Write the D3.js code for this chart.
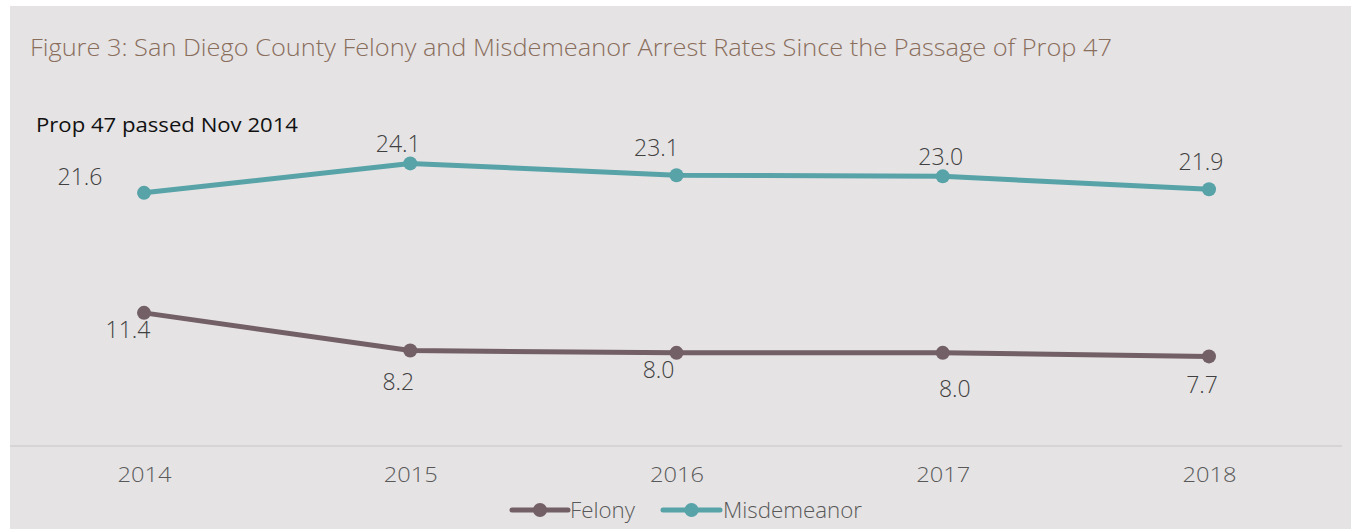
<!DOCTYPE html>
<html><head><meta charset="utf-8">
<script src="https://cdn.jsdelivr.net/npm/d3@7"></script>
<style>
html,body{margin:0;padding:0;background:#fff;}
svg{display:block;font-family:"Open Sans",sans-serif;font-weight:300;}
</style></head>
<body>
<svg id="chart" width="1353" height="529"></svg>
<script>
const years = ["2014","2015","2016","2017","2018"];
const felony = [11.4, 8.2, 8.0, 8.0, 7.7];
const misdemeanor = [21.6, 24.1, 23.1, 23.0, 21.9];
const seriesNames = ["Felony","Misdemeanor"];
const titleText = "Figure 3: San Diego County Felony and Misdemeanor Arrest Rates Since the Passage of Prop 47";
const noteText = "Prop 47 passed Nov 2014";

// label offsets (dx, dy from point) — styling only
const labelOffsets = {
  Felony: [[-16,17],[-12,31],[-18,17],[12,36],[-7,29]],
  Misdemeanor: [[-64,-16],[-12,-19],[-20,-27],[-2,-19],[-8,-27]]
};
const colors = {Felony:"#735f66", Misdemeanor:"#57a3a8"};

const svg = d3.select("#chart");
svg.append("rect").attr("x",10).attr("y",6).attr("width",1341).attr("height",523).attr("fill","#e5e3e4");

const x = d3.scalePoint().domain(years).range([144,1209]);
const y = d3.scaleLinear().domain([0,30]).range([447,94]);

// title
svg.append("text").attr("x",30).attr("y",56).text(titleText)
  .attr("font-size",24).attr("fill","#8a6e5c")
  .attr("textLength",1082).attr("lengthAdjust","spacingAndGlyphs");

svg.append("text").attr("x",36).attr("y",132).text(noteText)
  .attr("font-size",20).attr("fill","#111").attr("font-weight",400)
  .attr("textLength",262).attr("lengthAdjust","spacingAndGlyphs");

// axis
const axis = d3.axisBottom(x).tickSize(0).tickPadding(21);
const gx = svg.append("g").attr("transform","translate(0,446)").call(axis);
gx.select(".domain").remove();
svg.append("line").attr("x1",10).attr("x2",1342).attr("y1",446).attr("y2",446)
  .attr("stroke","#d6d4d5").attr("stroke-width",2);
gx.selectAll("text").attr("font-size",21).attr("fill","#595959")
  .attr("font-family","Open Sans").attr("font-weight",300)
  .attr("textLength",54).attr("lengthAdjust","spacingAndGlyphs");

const data = {Felony: felony, Misdemeanor: misdemeanor};
const line = d3.line().x((d,i)=>x(years[i])).y(d=>y(d));

seriesNames.forEach(name=>{
  const vals = data[name];
  svg.append("path").datum(vals).attr("d",line).attr("fill","none")
    .attr("stroke",colors[name]).attr("stroke-width",5);
  svg.selectAll(null).data(vals).enter().append("circle")
    .attr("cx",(d,i)=>x(years[i])).attr("cy",d=>y(d)).attr("r",7).attr("fill",colors[name]);
  svg.selectAll(null).data(vals).enter().append("text")
    .attr("x",(d,i)=>x(years[i])+labelOffsets[name][i][0])
    .attr("y",(d,i)=>y(d)+labelOffsets[name][i][1]+8)
    .attr("text-anchor","middle").attr("font-size",23).attr("fill","#404040")
    .text(d=>d.toFixed(1));
});

// legend
const legend = [
  {name:"Felony", x1:512, x2:568, tx:570, tw:65},
  {name:"Misdemeanor", x1:663, x2:720, tx:723, tw:139}
];
const lg = svg.append("g");
legend.forEach(l=>{
  lg.append("line").attr("x1",l.x1).attr("x2",l.x2).attr("y1",510).attr("y2",510)
    .attr("stroke",colors[l.name]).attr("stroke-width",5).attr("stroke-linecap","round");
  lg.append("circle").attr("cx",(l.x1+l.x2)/2).attr("cy",510).attr("r",7).attr("fill",colors[l.name]);
  lg.append("text").attr("x",l.tx).attr("y",518).text(l.name)
    .attr("font-size",22).attr("fill","#595959")
    .attr("textLength",l.tw).attr("lengthAdjust","spacingAndGlyphs");
});
</script>
</body></html>
